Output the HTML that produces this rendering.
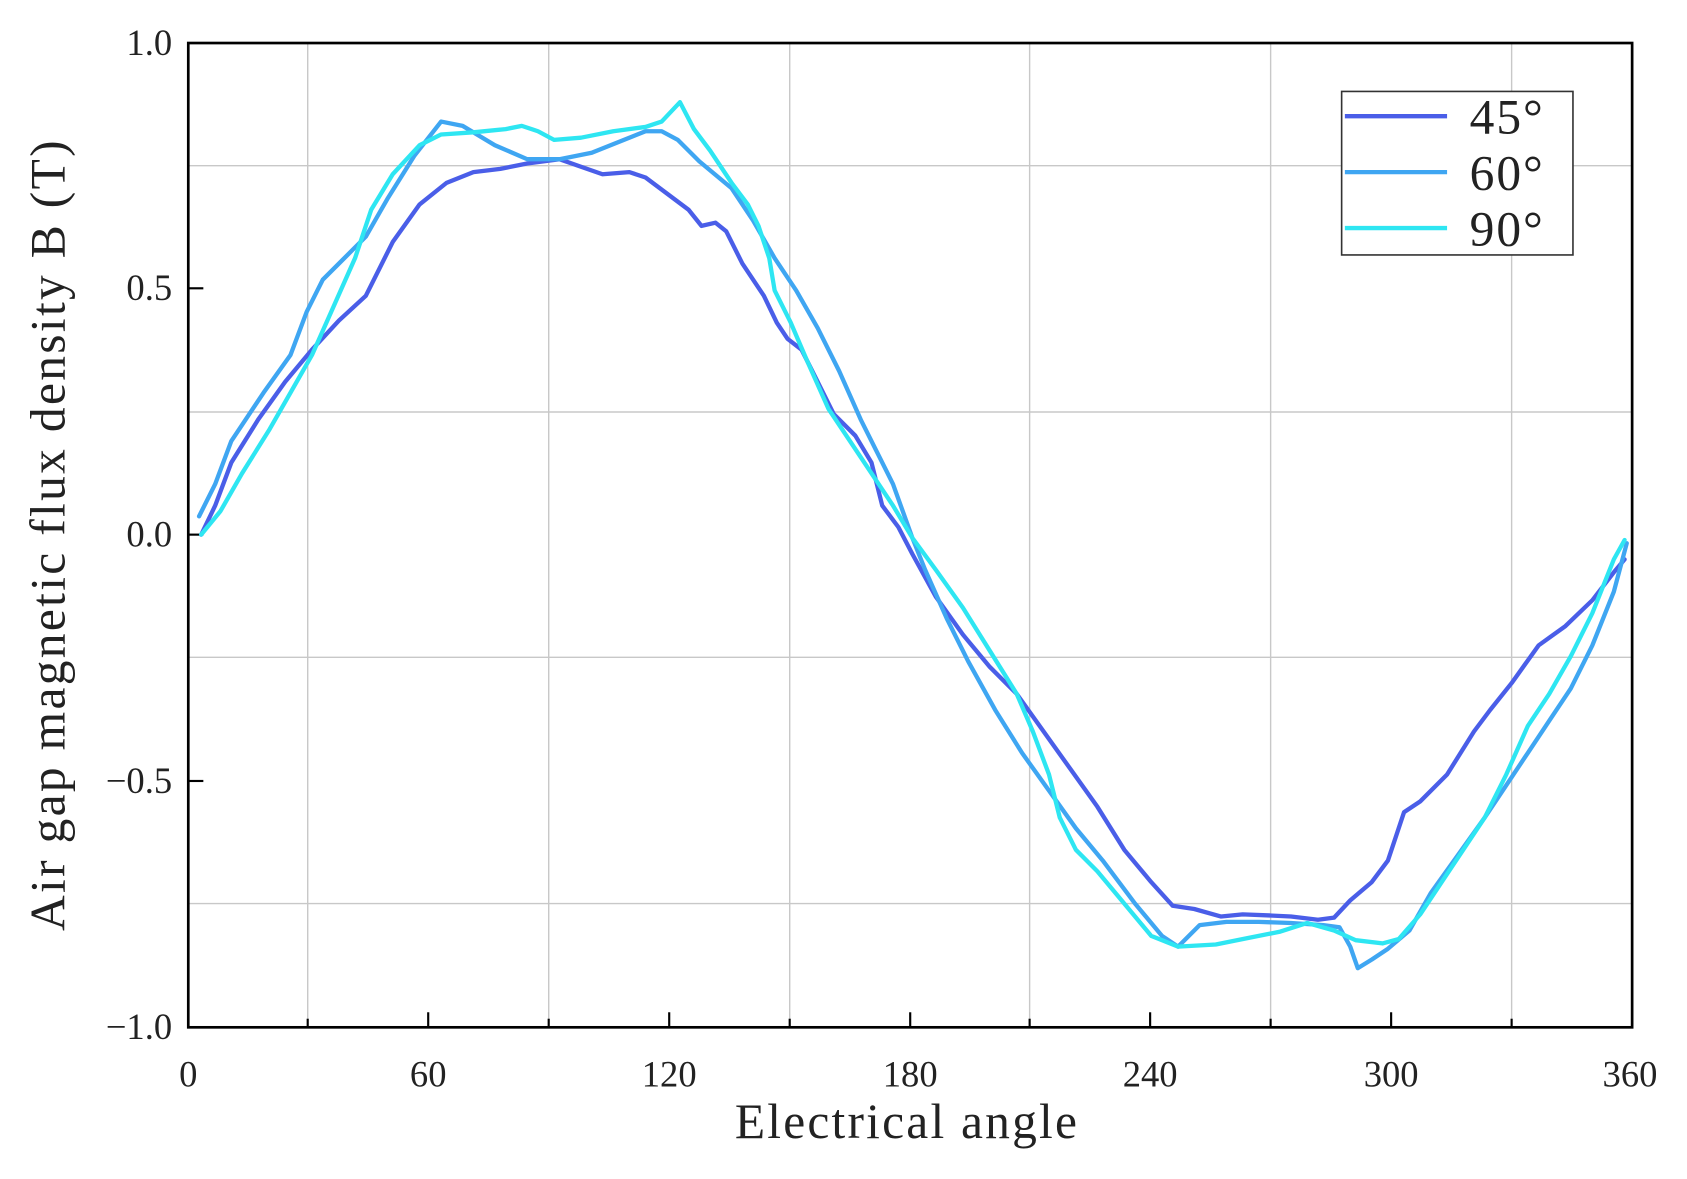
<!DOCTYPE html>
<html><head><meta charset="utf-8"><style>html,body{margin:0;padding:0;background:#fff}svg{display:block}</style></head><body>
<svg width="1687" height="1179" viewBox="0 0 1568 1096" preserveAspectRatio="none" xmlns="http://www.w3.org/2000/svg" font-family="Liberation Serif, serif">
<g stroke="#c8c8c8" stroke-width="1.3">
<line x1="286" y1="40" x2="286" y2="955"/><line x1="510" y1="40" x2="510" y2="955"/><line x1="734" y1="40" x2="734" y2="955"/><line x1="957" y1="40" x2="957" y2="955"/><line x1="1181" y1="40" x2="1181" y2="955"/><line x1="1405" y1="40" x2="1405" y2="955"/>
<line x1="175" y1="154" x2="1517" y2="154"/><line x1="175" y1="383" x2="1517" y2="383"/><line x1="175" y1="611" x2="1517" y2="611"/><line x1="175" y1="840" x2="1517" y2="840"/>
</g>
<g stroke="#000" stroke-width="2">
<line x1="398" y1="955" x2="398" y2="941"/><line x1="622" y1="955" x2="622" y2="941"/><line x1="846" y1="955" x2="846" y2="941"/><line x1="1069" y1="955" x2="1069" y2="941"/><line x1="1293" y1="955" x2="1293" y2="941"/>
<line x1="286" y1="955" x2="286" y2="947"/><line x1="510" y1="955" x2="510" y2="947"/><line x1="734" y1="955" x2="734" y2="947"/><line x1="957" y1="955" x2="957" y2="947"/><line x1="1181" y1="955" x2="1181" y2="947"/><line x1="1405" y1="955" x2="1405" y2="947"/>
<line x1="175" y1="268" x2="189" y2="268"/><line x1="175" y1="497" x2="189" y2="497"/><line x1="175" y1="726" x2="189" y2="726"/>
</g>
<g fill="none" stroke-width="4" stroke-linejoin="round" stroke-linecap="round">
<polyline stroke="#4a5ee8" points="187,497 200,470 215,430 240,390 265,355 290,325 315,298 340,275 365,225 390,190 415,170 440,160 465,157 490,152 520,148 540,155 560,162 585,160 600,165 620,180 640,195 652,210 665,207 675,215 690,245 710,275 722,300 732,315 745,325 760,355 775,385 795,405 810,430 820,470 835,490 848,515 870,555 895,590 920,620 945,645 970,680 995,715 1020,750 1045,790 1070,820 1090,842 1110,845 1135,852 1155,850 1180,851 1200,852 1225,855 1240,853 1255,837 1275,820 1290,800 1305,755 1320,745 1345,720 1370,680 1385,660 1405,635 1430,600 1455,582 1480,558 1500,532 1510,520"/>
<polyline stroke="#3fa6f2" points="185,480 200,450 215,410 225,395 245,365 270,330 285,290 300,260 320,240 340,220 360,185 385,145 410,113 430,117 460,135 490,148 520,148 550,142 575,132 600,122 615,122 630,130 650,150 680,175 700,205 720,240 740,270 760,305 780,345 800,390 815,420 830,450 848,500 860,530 880,575 900,615 925,660 950,700 975,735 1000,770 1025,800 1055,840 1080,870 1095,880 1105,870 1115,860 1140,857 1170,857 1200,858 1230,860 1245,862 1255,880 1262,900 1275,892 1290,882 1310,865 1330,830 1355,795 1380,760 1400,730 1420,700 1440,670 1460,640 1480,600 1500,550 1512,505"/>
<polyline stroke="#2ee6f2" points="187,497 205,475 225,440 250,400 270,365 290,330 310,285 330,240 345,195 365,162 390,135 410,125 440,123 470,120 485,117 500,122 515,130 540,128 570,122 600,118 615,113 632,95 645,120 660,140 680,170 695,190 705,210 715,240 720,270 735,300 750,335 770,380 790,410 810,440 830,470 848,500 870,530 895,565 920,605 945,645 960,680 975,720 985,760 1000,790 1020,810 1045,840 1070,870 1095,880 1130,878 1160,872 1190,866 1215,858 1240,865 1260,874 1285,877 1300,873 1320,850 1340,820 1360,790 1380,760 1400,720 1420,675 1440,645 1460,610 1480,570 1500,520 1510,502"/>
</g>
<rect x="175" y="40" width="1342" height="915" fill="none" stroke="#000" stroke-width="2.5"/>
<rect x="1247" y="85" width="215" height="152" fill="#fff" stroke="#333" stroke-width="1.5"/>
<g stroke-width="4"><line x1="1250" y1="108" x2="1345" y2="108" stroke="#4a5ee8"/><line x1="1250" y1="160" x2="1345" y2="160" stroke="#3fa6f2"/><line x1="1250" y1="212" x2="1345" y2="212" stroke="#2ee6f2"/></g>
<g font-size="46" fill="#222"><text x="1366" y="124" textLength="68">45°</text><text x="1366" y="176" textLength="68">60°</text><text x="1366" y="228" textLength="68">90°</text></g>
<g font-size="34" fill="#222" text-anchor="end"><text x="160" y="51">1.0</text><text x="160" y="279">0.5</text><text x="160" y="508">0.0</text><text x="160" y="737">−0.5</text><text x="160" y="966">−1.0</text></g>
<g font-size="34" fill="#222" text-anchor="middle"><text x="175" y="1010">0</text><text x="398" y="1010">60</text><text x="622" y="1010">120</text><text x="846" y="1010">180</text><text x="1069" y="1010">240</text><text x="1293" y="1010">300</text><text x="1515" y="1010">360</text></g>
<text x="842" y="1058" font-size="46" fill="#222" text-anchor="middle" textLength="318">Electrical angle</text>
<text transform="translate(60,498) rotate(-90)" font-size="46" fill="#222" text-anchor="middle" textLength="735">Air gap magnetic flux density B (T)</text>
</svg>
</body></html>
